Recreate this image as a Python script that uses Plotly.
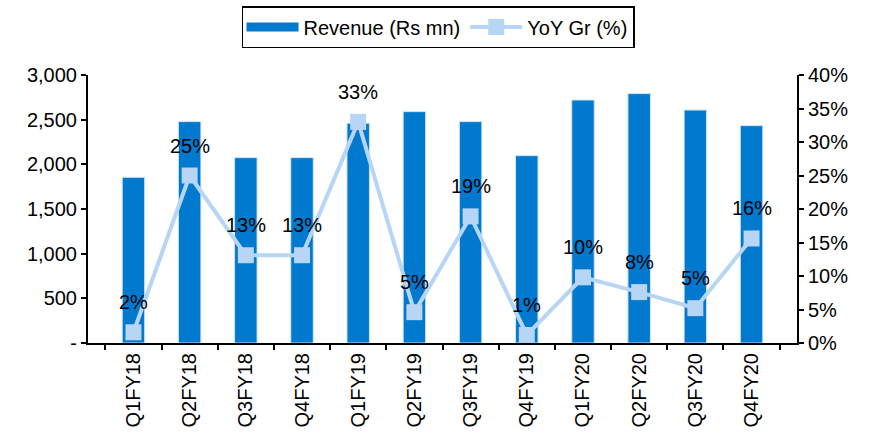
import plotly.graph_objects as go

categories = ["Q1FY18", "Q2FY18", "Q3FY18", "Q4FY18", "Q1FY19", "Q2FY19",
              "Q3FY19", "Q4FY19", "Q1FY20", "Q2FY20", "Q3FY20", "Q4FY20"]
revenue = [1855, 2478, 2075, 2075, 2460, 2590, 2478, 2097, 2720, 2792, 2608, 2433]
yoy_growth = [1.6, 25.0, 13.1, 13.1, 33.0, 4.6, 18.9, 1.2, 9.8, 7.6, 5.2, 15.6]
left_tickvals = [0, 500, 1000, 1500, 2000, 2500, 3000]
left_ticktext = ["-", "500", "1,000", "1,500", "2,000", "2,500", "3,000"]
right_tickvals = [0, 5, 10, 15, 20, 25, 30, 35, 40]
right_ticktext = ["0%", "5%", "10%", "15%", "20%", "25%", "30%", "35%", "40%"]

FONT = "Liberation Sans, Arial, sans-serif"
FS = 20
BAR_COLOR = "#0079CE"
LINE_COLOR = "#B7D5F5"

fig = go.Figure()
fig.add_trace(go.Bar(
    x=categories, y=revenue, name="Revenue (Rs mn)",
    marker=dict(color=BAR_COLOR, line=dict(color="#CFE3F7", width=1)),
    yaxis="y", showlegend=False, legendgroup="rev",
))
# legend swatch for the bars (wide rectangle like the original legend)
fig.add_trace(go.Scatter(
    x=[None], y=[None], name="Revenue (Rs mn)", mode="lines",
    line=dict(color=BAR_COLOR, width=9), legendgroup="rev", hoverinfo="skip",
))
fig.add_trace(go.Scatter(
    x=categories, y=yoy_growth, name="YoY Gr (%)", mode="lines+markers",
    line=dict(color=LINE_COLOR, width=4),
    marker=dict(symbol="square", size=16, color=LINE_COLOR),
    yaxis="y2",
))

annotations = [
    dict(x=c, y=v, xref="x", yref="y2", text=f"{round(v):.0f}%", showarrow=False,
         yshift=30, font=dict(family=FONT, size=FS, color="#000000"))
    for c, v in zip(categories, yoy_growth)
]

axis_common = dict(
    showline=True, linecolor="#000000", linewidth=2,
    ticks="outside", ticklen=5, tickcolor="#000000", tickwidth=2,
    showgrid=False, zeroline=False, automargin=False,
    tickfont=dict(family=FONT, size=FS, color="#000000"),
)

fig.update_layout(
    width=873, height=438,
    margin=dict(l=88, r=76, t=75, b=95, autoexpand=False),
    paper_bgcolor="white", plot_bgcolor="white",
    font=dict(family=FONT, size=FS, color="#000000"),
    bargap=0.6,
    showlegend=True,
    legend=dict(orientation="h", x=431 / 873, xanchor="center",
                yref="container", y=1 - 6 / 438, yanchor="top",
                bordercolor="#000000", borderwidth=1.5, bgcolor="white",
                font=dict(family=FONT, size=FS), itemwidth=52),
    xaxis=dict(type="category", tickangle=-90, tickson="boundaries", **axis_common),
    yaxis=dict(range=[0, 3000], tickvals=left_tickvals, ticktext=left_ticktext,
               **axis_common),
    yaxis2=dict(range=[0, 40], tickvals=right_tickvals, ticktext=right_ticktext,
                overlaying="y", side="right", **axis_common),
    annotations=annotations,
)

post = (
    "document.body.style.margin='0';document.body.style.padding='0';"
    "var gd=document.getElementById('{plot_id}');"
    "Plotly.relayout(gd,{width:873,height:438});"
)

fig.write_html("out.html", post_script=post,
               config={"responsive": False, "displayModeBar": False})
